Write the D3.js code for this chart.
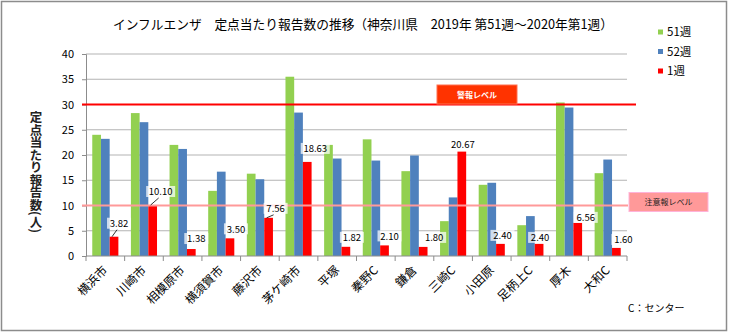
<!DOCTYPE html>
<html>
<head>
<meta charset="utf-8">
<script src="https://cdn.jsdelivr.net/npm/d3@7"></script>
<style>
  body { margin: 0; background: #fff; }
  svg text { font-family: "Noto Sans CJK JP", "Liberation Sans", sans-serif; }
</style>
</head>
<body>
<svg id="chart"></svg>
<script>
const width = 729,
      height = 333;

const cities = ["横浜市", "川崎市", "相模原市", "横須賀市", "藤沢市", "茅ケ崎市", "平塚", "秦野C",
                "鎌倉", "三崎C", "小田原", "足柄上C", "厚木", "大和C"];
const weeks = ["51週", "52週", "1週"];
const week51 = [24.0, 28.3, 22.0, 12.9, 16.3, 35.5, 22.0, 23.1, 16.8, 6.9, 14.1, 6.1, 30.4, 16.4];
const week52 = [23.2, 26.5, 21.2, 16.7, 15.2, 28.4, 19.3, 18.9, 19.9, 11.6, 14.5, 7.9, 29.4, 19.1];
const week1 = [3.82, 10.10, 1.38, 3.50, 7.56, 18.63, 1.82, 2.10, 1.80, 20.67, 2.40, 2.40, 6.56, 1.60];
const yTicks = [0, 5, 10, 15, 20, 25, 30, 35, 40];
const warningLevel = 30,
      cautionLevel = 10;

// where each 1週 label sits relative to its bar top (px), and whether it gets a leader line
const labelDx = [5, 8, 5, 6, 7, 8, 6, 5, 11, 1, 2, 1, 8, 7];
const labelDy = [-13, -13, -10, -9, -9, -13, -9, -9, -9, -7, -8, -6, -5, -8];
const leader = [true, true, false, false, true, false, false, false, false, false, false, false, false, false];

const colors = ["#92d050", "#4f81bd", "#ff0000"];
const seriesData = [week51, week52, week1];

const svg = d3.select("#chart")
  .attr("width", width)
  .attr("height", height);

// outer frame
svg.append("rect")
  .attr("x", 1.5).attr("y", 1.5)
  .attr("width", width - 4).attr("height", height - 4)
  .attr("fill", "#fff")
  .attr("stroke", "#8c8c8c")
  .attr("stroke-width", 1.5);

const x0 = d3.scaleBand().domain(cities).range([86, 627]);
const x1 = d3.scaleBand().domain(weeks).range([0, x0.bandwidth()]).paddingOuter(0.72);
const y = d3.scaleLinear().domain([0, 40]).range([256, 54]);
const color = d3.scaleOrdinal().domain(weeks).range(colors);

// title
svg.append("text")
  .attr("x", 113).attr("y", 29)
  .attr("font-size", 13)
  .attr("textLength", 500)
  .attr("lengthAdjust", "spacingAndGlyphs")
  .attr("fill", "#000")
  .text("インフルエンザ　定点当たり報告数の推移（神奈川県　2019年 第51週～2020年第1週）");

// gridlines
svg.append("g")
  .selectAll("line")
  .data(yTicks.filter(d => d > 0))
  .join("line")
  .attr("x1", 86).attr("x2", 627)
  .attr("y1", d => y(d)).attr("y2", d => y(d))
  .attr("stroke", "#b3b3b3")
  .attr("stroke-width", 1.2);

// y axis
const yAxis = svg.append("g")
  .attr("transform", "translate(86,0)")
  .call(d3.axisLeft(y).tickValues(yTicks).tickSize(4).tickPadding(8));
yAxis.select(".domain").attr("stroke", "#8c8c8c");
yAxis.selectAll(".tick line").attr("stroke", "#8c8c8c");
yAxis.selectAll(".tick text")
  .attr("font-size", 11)
  .attr("font-family", "Liberation Sans, sans-serif")
  .attr("fill", "#000");

// y axis title, written vertically
svg.append("text")
  .attr("x", 36).attr("y", 111)
  .attr("font-size", 12.5)
  .attr("font-weight", "bold")
  .style("writing-mode", "vertical-rl")
  .attr("fill", "#222")
  .text("定点当たり報告数(人)");

// bars
const groups = svg.append("g")
  .selectAll("g")
  .data(cities)
  .join("g")
  .attr("transform", d => `translate(${x0(d)},0)`);

groups.selectAll("rect")
  .data((d, i) => weeks.map((w, k) => ({ week: w, value: seriesData[k][i] })))
  .join("rect")
  .attr("x", d => x1(d.week))
  .attr("width", x1.bandwidth())
  .attr("y", d => y(d.value))
  .attr("height", d => y(0) - y(d.value))
  .attr("fill", d => color(d.week));

// x axis with ticks between categories
svg.append("line")
  .attr("x1", 86).attr("x2", 627)
  .attr("y1", 256).attr("y2", 256)
  .attr("stroke", "#8c8c8c");
svg.append("g")
  .selectAll("line")
  .data(cities.concat(["end"]))
  .join("line")
  .attr("x1", (d, i) => i < cities.length ? x0(d) : 627)
  .attr("x2", (d, i) => i < cities.length ? x0(d) : 627)
  .attr("y1", 256).attr("y2", 261)
  .attr("stroke", "#8c8c8c");

svg.append("g")
  .selectAll("text")
  .data(cities)
  .join("text")
  .attr("transform", d => `translate(${x0(d) + x0.bandwidth() / 2 + 3},${271}) rotate(-45)`)
  .attr("text-anchor", "end")
  .attr("font-size", 12)
  .attr("fill", "#000")
  .text(d => d);

// warning / caution level lines
svg.append("line")
  .attr("x1", 82).attr("x2", 636)
  .attr("y1", y(warningLevel)).attr("y2", y(warningLevel))
  .attr("stroke", "#ff0000")
  .attr("stroke-width", 2);
svg.append("line")
  .attr("x1", 82).attr("x2", 628)
  .attr("y1", y(cautionLevel)).attr("y2", y(cautionLevel))
  .attr("stroke", "#ff9999")
  .attr("stroke-width", 2.2);

svg.append("rect")
  .attr("x", 437).attr("y", 85)
  .attr("width", 80).attr("height", 19)
  .attr("fill", "#ff3300")
  .attr("stroke", "#ff7050");
svg.append("text")
  .attr("x", 477).attr("y", 97.5)
  .attr("text-anchor", "middle")
  .attr("font-size", 8)
  .attr("font-weight", "bold")
  .attr("fill", "#fff")
  .text("警報レベル");

svg.append("rect")
  .attr("x", 629).attr("y", 192.5)
  .attr("width", 79).attr("height", 19)
  .attr("fill", "#ff9999")
  .attr("stroke", "#ffb3d9");
svg.append("text")
  .attr("x", 668.5).attr("y", 205)
  .attr("text-anchor", "middle")
  .attr("font-size", 8)
  .attr("fill", "#222")
  .text("注意報レベル");

// value labels for 1週
const redX = i => x0(cities[i]) + x1("1週") + x1.bandwidth() / 2;
const labels = svg.append("g")
  .selectAll("g")
  .data(week1)
  .join("g")
  .attr("transform", (d, i) => `translate(${redX(i) + labelDx[i]},${y(d) + labelDy[i]})`);

labels.each(function(d, i) {
  const g = d3.select(this);
  const txt = d.toFixed(2);
  const w = txt.length * 5 + 4;
  g.append("rect")
    .attr("x", -w / 2).attr("y", -6)
    .attr("width", w).attr("height", 11)
    .attr("fill", "#fff")
    .attr("fill-opacity", 0.72);
  g.append("text")
    .attr("text-anchor", "middle")
    .attr("dy", "0.35em")
    .attr("font-size", 9.5)
    .attr("font-family", "Liberation Sans, sans-serif")
    .attr("fill", "#000")
    .text(txt);
  if (leader[i]) {
    svg.append("line")
      .attr("x1", redX(i) - 2).attr("y1", y(d))
      .attr("x2", redX(i) + labelDx[i] - 2).attr("y2", y(d) + labelDy[i] + 6)
      .attr("stroke", "#000")
      .attr("stroke-width", 0.8);
  }
});

// legend
const legend = svg.append("g")
  .selectAll("g")
  .data(weeks)
  .join("g")
  .attr("transform", (d, i) => `translate(658,${32 + i * 19.5})`);
legend.append("rect")
  .attr("x", 0).attr("y", -2.5)
  .attr("width", 5).attr("height", 5)
  .attr("fill", d => color(d));
legend.append("text")
  .attr("x", 9).attr("dy", "0.38em")
  .attr("font-size", 11.5)
  .attr("fill", "#000")
  .text(d => d);

svg.append("text")
  .attr("x", 628).attr("y", 312)
  .attr("font-size", 10)
  .attr("fill", "#000")
  .text("C：センター");
</script>
</body>
</html>
